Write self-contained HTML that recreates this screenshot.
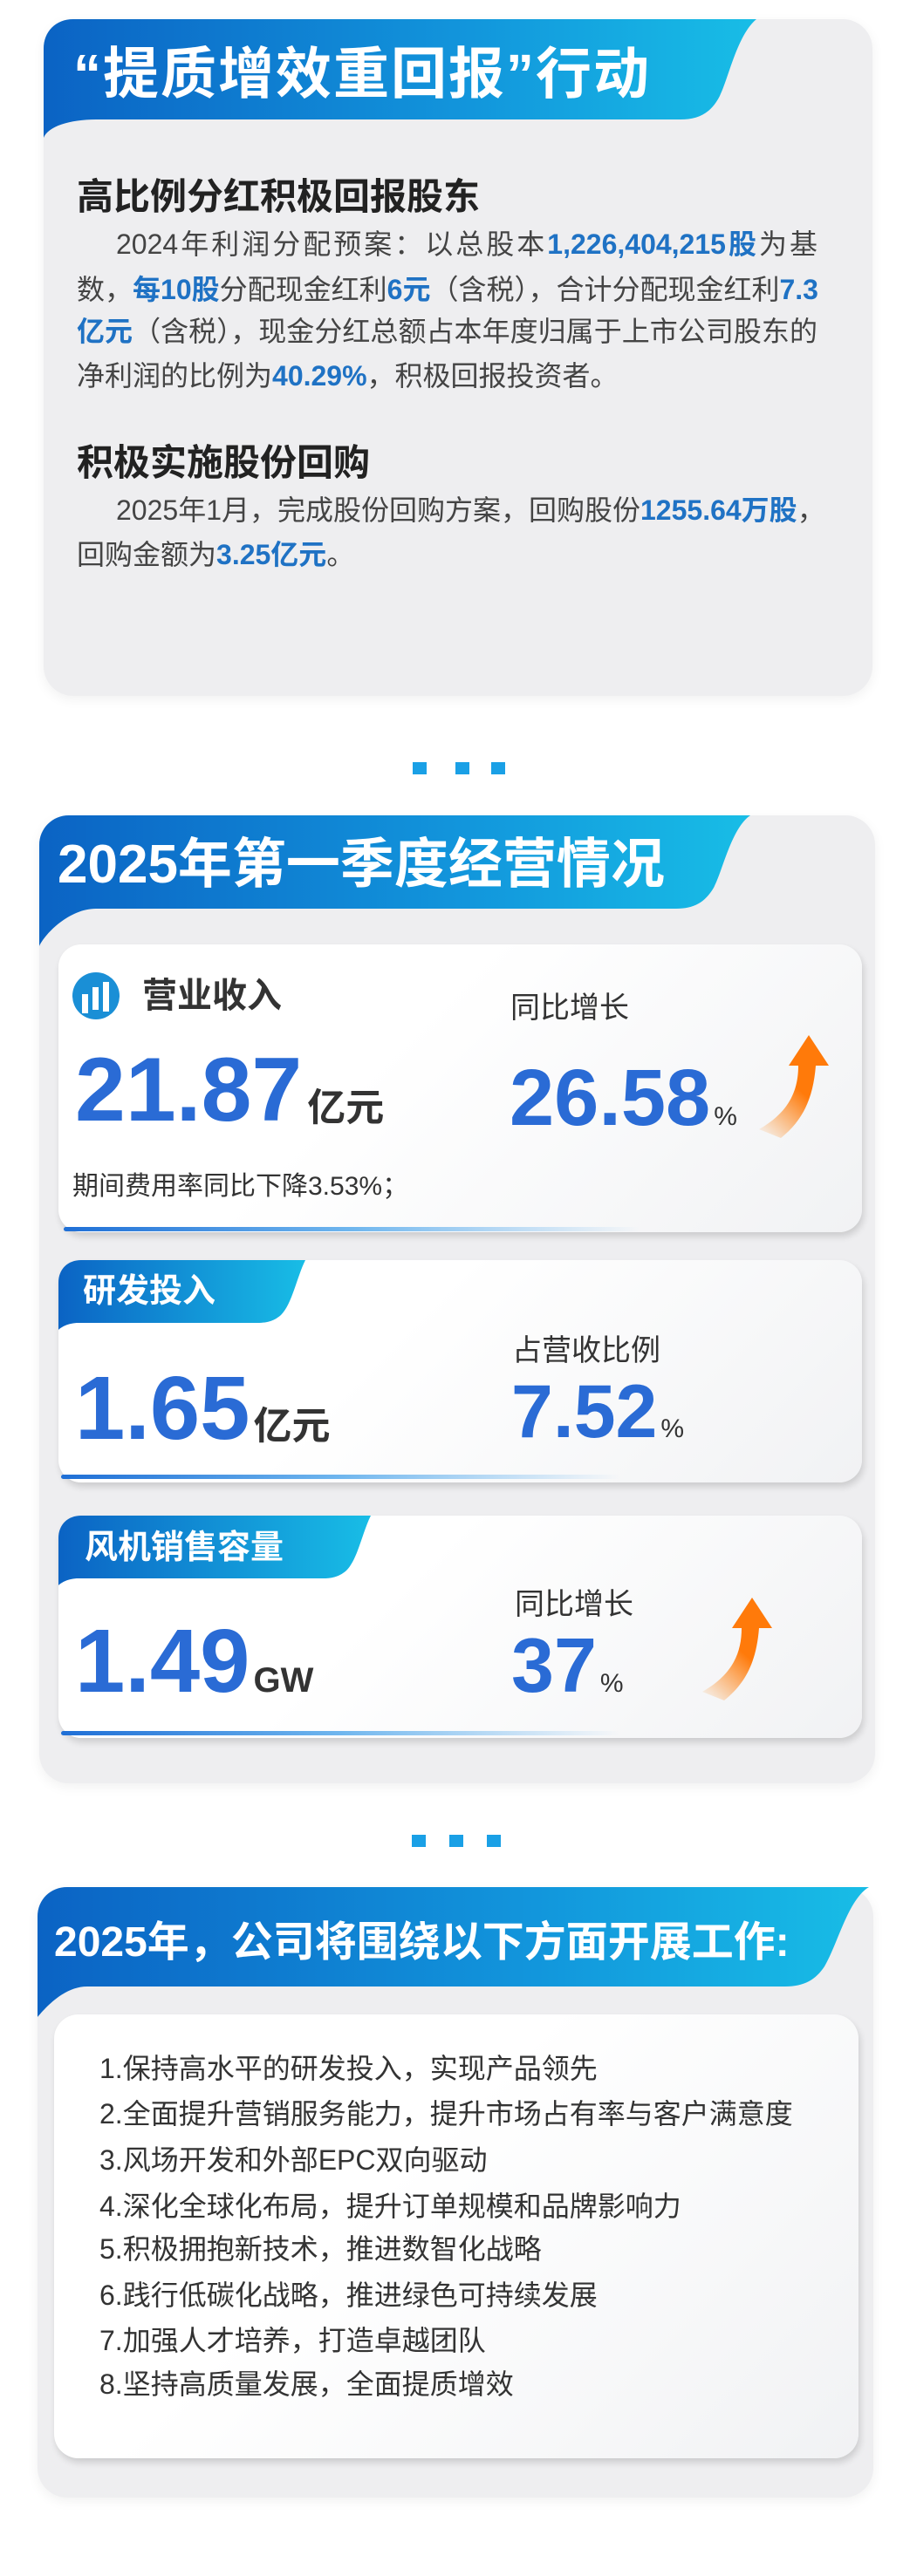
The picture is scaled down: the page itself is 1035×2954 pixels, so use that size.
<!DOCTYPE html>
<html><head><meta charset="utf-8">
<style>
*{margin:0;padding:0;box-sizing:border-box}
body{width:1035px;height:2954px;background:#fff;position:relative;font-family:"Liberation Sans","Noto Sans CJK SC",sans-serif;overflow:hidden}
.a{position:absolute;white-space:nowrap}
.card{position:absolute;background:#eeeef0;border-radius:34px;box-shadow:0 4px 14px rgba(0,0,0,0.06)}
.w{position:absolute;background:linear-gradient(135deg,#ffffff 40%,#f1f2f4);border-radius:26px;box-shadow:2px 5px 8px rgba(0,0,0,0.14)}
.t{color:#fff;font-weight:bold}
.h{color:#222;font-weight:bold;font-size:42px;line-height:50px}
.b{color:#444;font-size:32px;line-height:40px;width:849px}
.j{text-align:justify;text-align-last:justify}
.bl{color:#1f72c4;font-weight:bold}
.big{color:#2a6bd5;font-weight:bold;font-family:"Liberation Sans",sans-serif}
.u{color:#333;font-weight:bold;font-family:"Liberation Sans","Noto Sans CJK SC",sans-serif}
.pc{color:#333;font-weight:normal;font-size:30px}
.lab{color:#333;font-size:34px;line-height:40px}
.dot{position:absolute;width:16px;height:14px;background:#1aa0e6}
.line{position:absolute;height:5px;border-radius:3px;background:linear-gradient(90deg,#1f6fd6,#6fb6ee 50%,rgba(200,225,245,0))}
.li{color:#333;font-size:32px;line-height:38px}
</style></head><body>

<!-- Section 1 -->
<div class="card" style="left:50px;top:22px;width:950px;height:776px"></div>
<svg class="a" style="left:0;top:0" width="1035" height="200">
<defs><linearGradient id="g1" x1="0" x2="1" y1="0" y2="0"><stop offset="0" stop-color="#0b63c4"/><stop offset="0.6" stop-color="#1296dc"/><stop offset="1" stop-color="#18bde6"/></linearGradient></defs>
<path d="M84 22 H867 C845 40 835 90 825 110 C815 130 800 137 780 137 H110 C80 137 55 145 50 158 V56 C50 36 64 22 84 22Z" fill="url(#g1)"/>
</svg>
<div class="a t" style="left:84px;top:50px;font-size:64px;line-height:70px;letter-spacing:2px">“提质增效重回报”行动</div>
<div class="a h" style="left:88px;top:201px">高比例分红积极回报股东</div>
<div class="a b j" style="left:88px;top:260px;padding-left:45px">2024年利润分配预案：以总股本<span class="bl">1,226,404,215股</span>为基</div>
<div class="a b j" style="left:88px;top:312px">数，<span class="bl">每10股</span>分配现金红利<span class="bl">6元</span>（含税），合计分配现金红利<span class="bl">7.3</span></div>
<div class="a b j" style="left:88px;top:360px"><span class="bl">亿元</span>（含税），现金分红总额占本年度归属于上市公司股东的</div>
<div class="a b" style="left:88px;top:411px">净利润的比例为<span class="bl">40.29%</span>，积极回报投资者。</div>
<div class="a h" style="left:88px;top:506px">积极实施股份回购</div>
<div class="a b j" style="left:88px;top:565px;padding-left:45px;width:835px">2025年1月，完成股份回购方案，回购股份<span class="bl">1255.64万股</span>，</div>
<div class="a b" style="left:88px;top:616px">回购金额为<span class="bl">3.25亿元</span>。</div>

<div class="dot" style="left:473px;top:874px"></div><div class="dot" style="left:522px;top:874px"></div><div class="dot" style="left:563px;top:874px"></div>

<!-- Section 2 -->
<div class="card" style="left:45px;top:935px;width:958px;height:1110px"></div>
<svg class="a" style="left:0;top:900px" width="1035" height="200">
<path d="M79 35 H860 C838 50 828 100 818 118 C808 135 795 142 775 142 H110 C80 142 52 170 45 185 V69 C45 50 60 35 79 35Z" fill="url(#g1)"/>
</svg>
<div class="a t" style="left:66px;top:958px;font-size:62px;line-height:68px">2025年第一季度经营情况</div>

<!-- card1 -->
<div class="w" style="left:67px;top:1083px;width:921px;height:330px"></div>
<svg class="a" style="left:78px;top:1110px" width="64" height="64"><circle cx="32" cy="32" r="31" fill="#fff"/><circle cx="32" cy="32" r="27" fill="#1a8fd6"/><rect x="16" y="30" width="7" height="22" fill="#fff"/><rect x="28" y="22" width="7" height="26" fill="#fff"/><rect x="40" y="16" width="7" height="34" fill="#fff"/></svg>
<div class="a u" style="left:163px;top:1120px;font-size:40px;line-height:44px">营业收入</div>
<div class="a lab" style="left:585px;top:1136px">同比增长</div>
<div class="a" style="left:86px;top:1195px;line-height:110px"><span class="big" style="font-size:104px">21.87</span><span class="u" style="font-size:44px;margin-left:6px">亿元</span></div>
<div class="a" style="left:584px;top:1211px;line-height:96px"><span class="big" style="font-size:92px">26.58</span><span class="pc" style="margin-left:4px">%</span></div>
<svg class="a" style="left:860px;top:1180px" width="110" height="130"><defs><linearGradient id="ar" x1="0" y1="1" x2="0.6" y2="0"><stop offset="0" stop-color="#ff8a1a" stop-opacity="0"/><stop offset="0.6" stop-color="#ff7a0a"/></linearGradient></defs><path d="M10 115 C45 95 55 70 55 42 L44 42 L67 7 L90 42 L75 42 C72 80 60 105 35 125 Z" fill="url(#ar)"/></svg>
<div class="a" style="left:83px;top:1342px;font-size:30px;color:#333;line-height:38px">期间费用率同比下降3.53%；</div>
<div class="line" style="left:73px;top:1407px;width:660px"></div>

<!-- card2 -->
<div class="w" style="left:67px;top:1445px;width:921px;height:255px"></div>
<svg class="a" style="left:60px;top:1440px" width="300" height="85"><defs><linearGradient id="g2" x1="0" x2="1"><stop offset="0" stop-color="#0b63c4"/><stop offset="1" stop-color="#18bde6"/></linearGradient></defs><path d="M33 5 H290 C280 25 275 55 262 68 C255 74 248 77 235 77 H30 C18 77 10 82 7 85 V31 C7 15 18 5 33 5Z" fill="url(#g2)"/></svg>
<div class="a t" style="left:95px;top:1459px;font-size:38px;line-height:44px">研发投入</div>
<div class="a lab" style="left:587px;top:1529px">占营收比例</div>
<div class="a" style="left:86px;top:1560px;line-height:110px"><span class="big" style="font-size:103px">1.65</span><span class="u" style="font-size:44px;margin-left:4px">亿元</span></div>
<div class="a" style="left:586px;top:1571px;line-height:96px"><span class="big" style="font-size:86px">7.52</span><span class="pc" style="margin-left:4px">%</span></div>
<div class="line" style="left:70px;top:1691px;width:640px"></div>

<!-- card3 -->
<div class="w" style="left:67px;top:1738px;width:921px;height:255px"></div>
<svg class="a" style="left:60px;top:1733px" width="380" height="85"><path d="M33 5 H365 C355 25 350 55 337 68 C330 74 323 77 310 77 H30 C18 77 10 82 7 85 V31 C7 15 18 5 33 5Z" fill="url(#g2)"/></svg>
<div class="a t" style="left:97px;top:1753px;font-size:38px;line-height:44px">风机销售容量</div>
<div class="a lab" style="left:590px;top:1820px">同比增长</div>
<div class="a" style="left:86px;top:1850px;line-height:110px"><span class="big" style="font-size:103px">1.49</span><span class="u" style="font-size:40px;margin-left:4px">GW</span></div>
<div class="a" style="left:586px;top:1862px;line-height:96px"><span class="big" style="font-size:88px">37</span><span class="pc" style="margin-left:4px">%</span></div>
<svg class="a" style="left:795px;top:1825px" width="110" height="130"><path d="M10 115 C45 95 55 70 55 42 L44 42 L67 7 L90 42 L75 42 C72 80 60 105 35 125 Z" fill="url(#ar)"/></svg>
<div class="line" style="left:70px;top:1985px;width:640px"></div>

<div class="dot" style="left:472px;top:2104px"></div><div class="dot" style="left:515px;top:2104px"></div><div class="dot" style="left:558px;top:2104px"></div>

<!-- Section 3 -->
<div class="card" style="left:43px;top:2164px;width:958px;height:700px"></div>
<svg class="a" style="left:0;top:2130px" width="1035" height="200">
<path d="M77 34 H996 C972 48 960 100 945 125 C935 140 922 148 900 148 H100 C72 148 50 175 43 183 V68 C43 48 58 34 77 34Z" fill="url(#g1)"/>
</svg>
<div class="a t" style="left:62px;top:2200px;font-size:48px;line-height:56px">2025年，公司将围绕以下方面开展工作:</div>
<div class="w" style="left:62px;top:2310px;width:922px;height:509px;border-radius:28px"></div>
<div class="a li" style="left:114px;top:2353px">1.保持高水平的研发投入，实现产品领先</div>
<div class="a li" style="left:114px;top:2405px">2.全面提升营销服务能力，提升市场占有率与客户满意度</div>
<div class="a li" style="left:114px;top:2458px">3.风场开发和外部EPC双向驱动</div>
<div class="a li" style="left:114px;top:2511px">4.深化全球化布局，提升订单规模和品牌影响力</div>
<div class="a li" style="left:114px;top:2560px">5.积极拥抱新技术，推进数智化战略</div>
<div class="a li" style="left:114px;top:2613px">6.践行低碳化战略，推进绿色可持续发展</div>
<div class="a li" style="left:114px;top:2665px">7.加强人才培养，打造卓越团队</div>
<div class="a li" style="left:114px;top:2715px">8.坚持高质量发展，全面提质增效</div>
</body></html>
